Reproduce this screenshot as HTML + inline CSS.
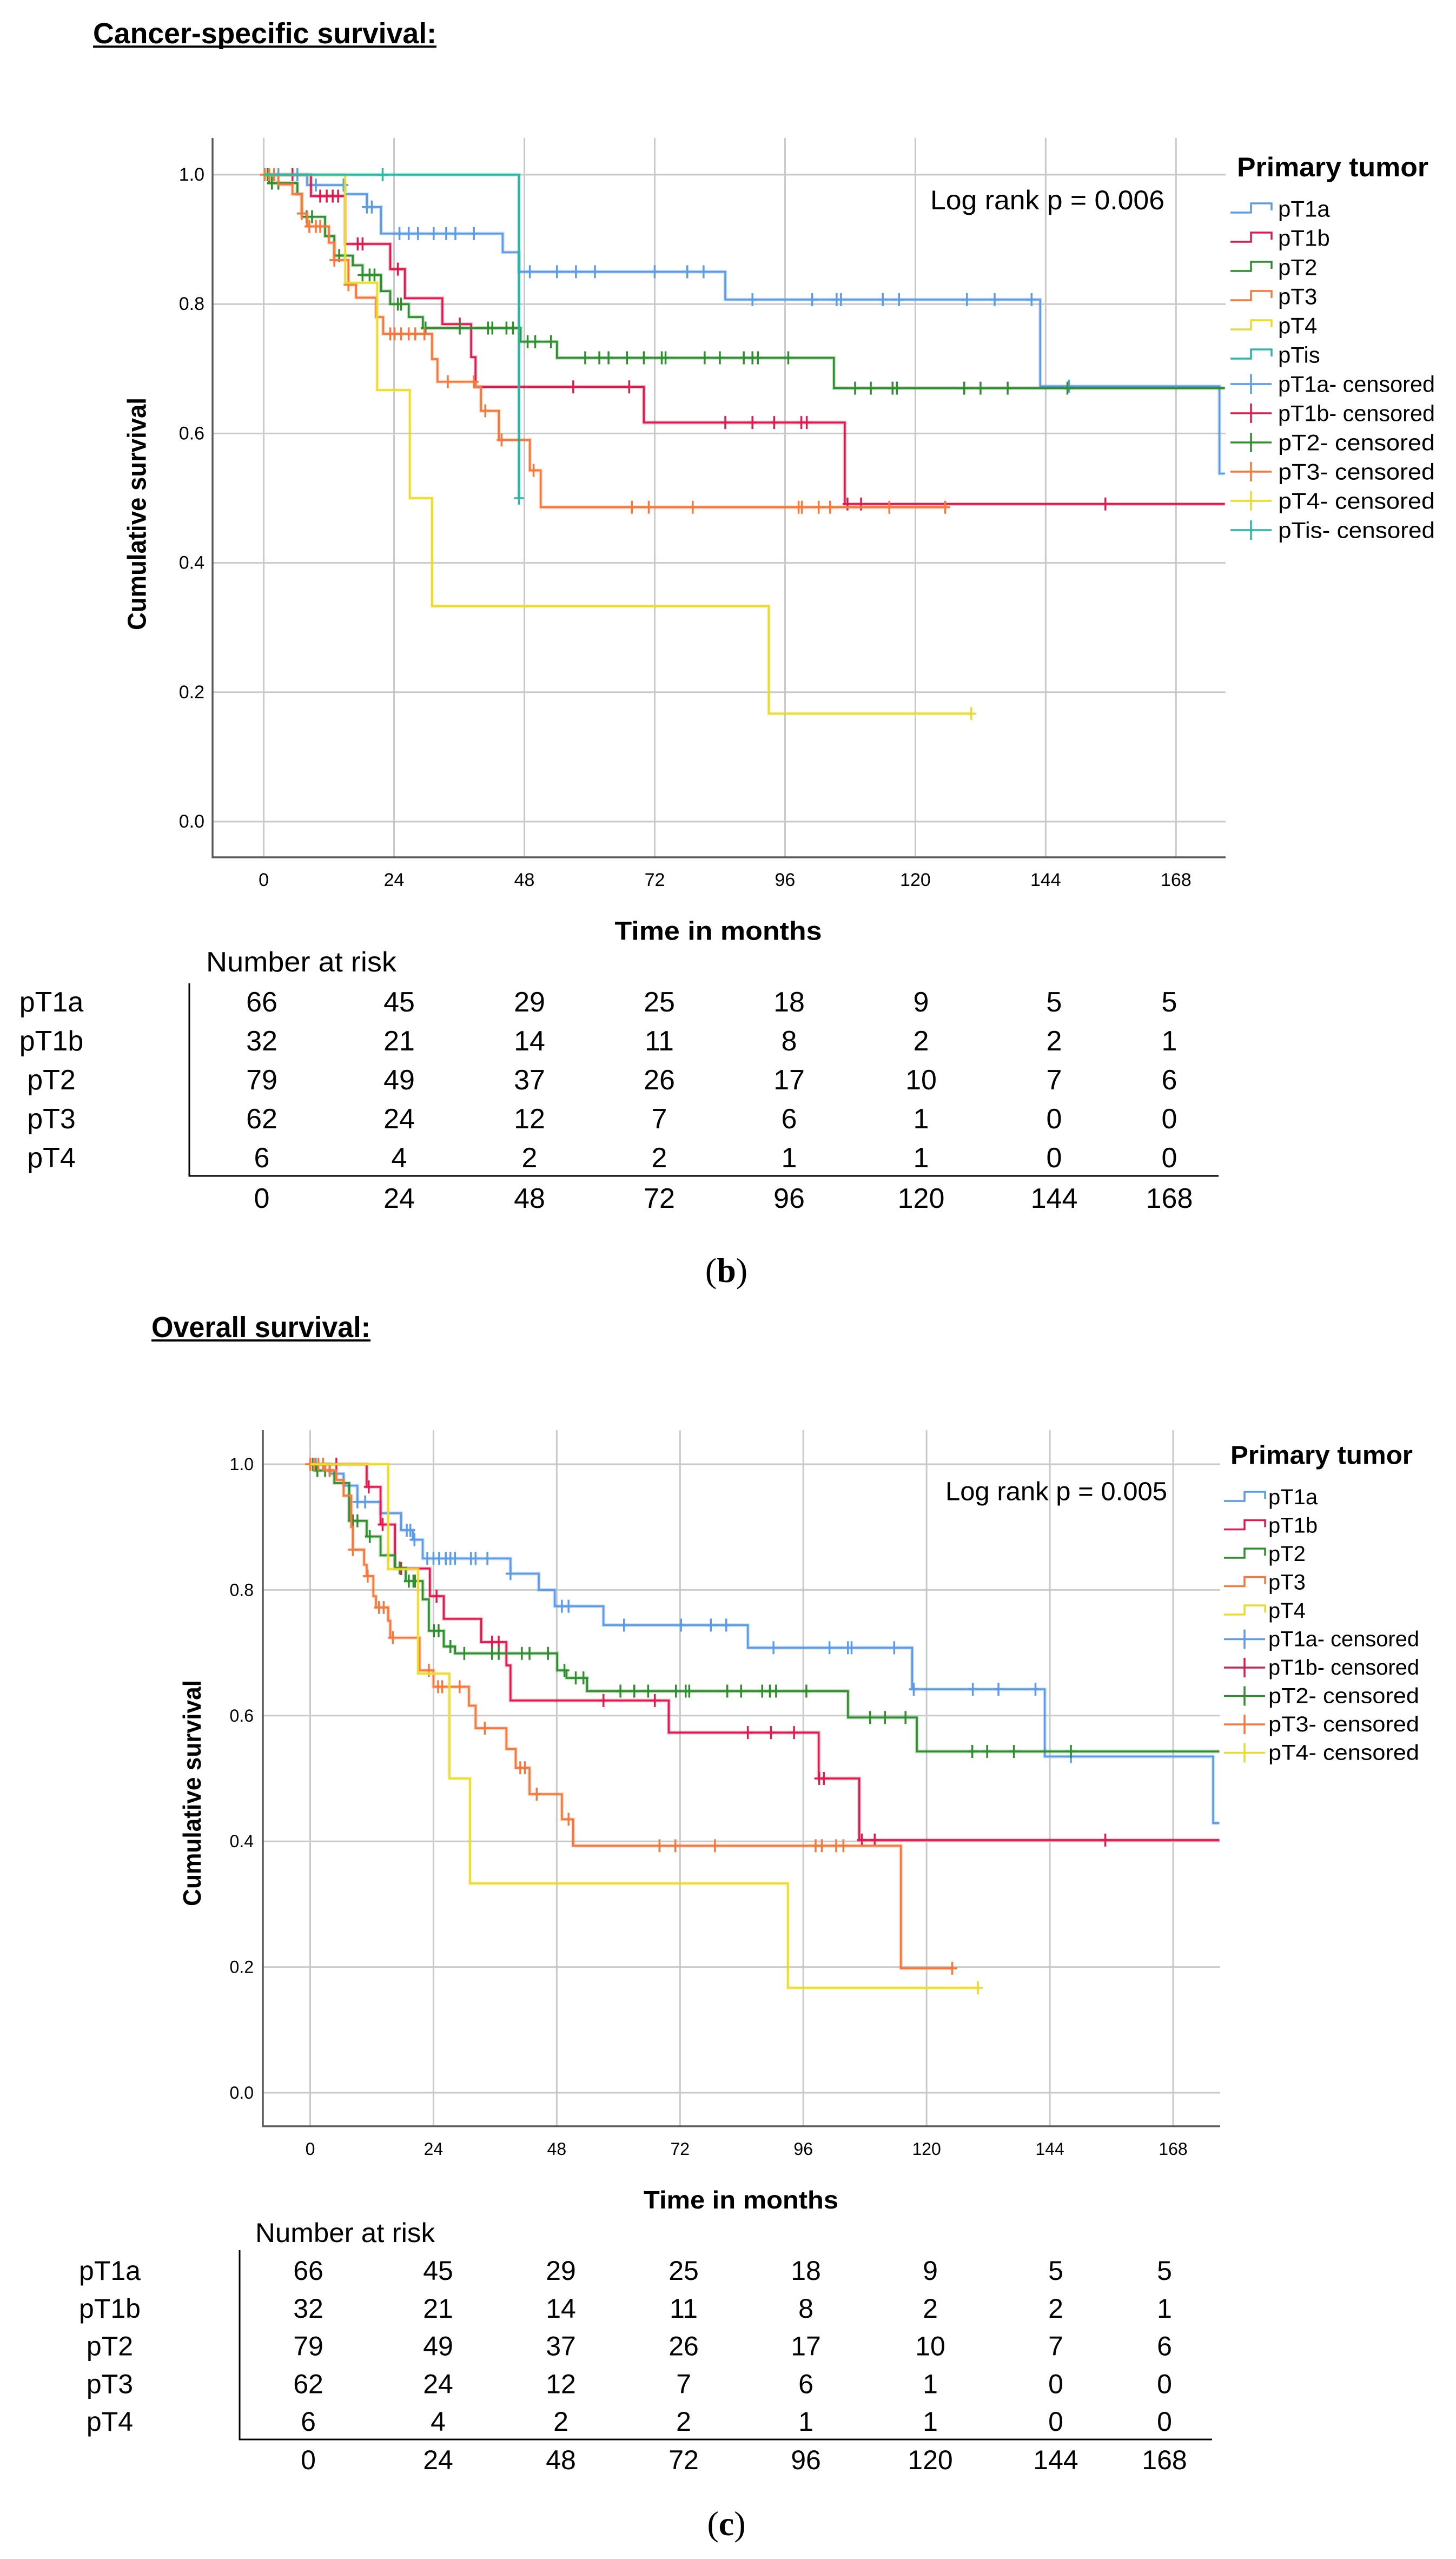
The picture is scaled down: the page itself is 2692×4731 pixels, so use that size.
<!DOCTYPE html>
<html>
<head>
<meta charset="utf-8">
<style>
html,body{margin:0;padding:0;background:#fff;}
svg{display:block;}
text{font-family:"Liberation Sans",sans-serif;fill:#000;}
</style>
</head>
<body>
<svg id="page" width="2692" height="4731" viewBox="0 0 2692 4731" xmlns="http://www.w3.org/2000/svg">
  <rect x="0" y="0" width="2692" height="4731" fill="#fff"/>
  <g id="chartB"></g>
  <g id="chartC"></g>
</svg>
<script>
// ---------- Data: chart (b) cancer-specific survival ----------
const xTicks = [0, 24, 48, 72, 96, 120, 144, 168];
const yTicks = [0.0, 0.2, 0.4, 0.6, 0.8, 1.0];
const yTickLabels = ["0.0", "0.2", "0.4", "0.6", "0.8", "1.0"];
const riskGroups = ["pT1a", "pT1b", "pT2", "pT3", "pT4"];
const riskTimes = [0, 24, 48, 72, 96, 120, 144, 168];
const riskPT1a = [66, 45, 29, 25, 18, 9, 5, 5];
const riskPT1b = [32, 21, 14, 11, 8, 2, 2, 1];
const riskPT2 = [79, 49, 37, 26, 17, 10, 7, 6];
const riskPT3 = [62, 24, 12, 7, 6, 1, 0, 0];
const riskPT4 = [6, 4, 2, 2, 1, 1, 0, 0];

const bT1aTimes = [8, 15, 19, 21.6, 44, 47, 85, 143, 176];
const bT1aSurv = [0.984, 0.97, 0.95, 0.909, 0.88, 0.85, 0.807, 0.673, 0.538];
const bT1aCens = [2.7, 6.2, 9.6, 14.7, 19, 19.9, 25, 26.7, 28.4, 31.3, 33.6, 35.3, 38.7, 49, 54, 57.5, 61, 72, 78, 81, 90, 101, 105.5, 106.3, 114, 117, 129.5, 134.6, 141.4, 148.3];
const bT1bTimes = [8.7, 15, 23.3, 26, 32.9, 38.2, 39, 70, 107];
const bT1bSurv = [0.967, 0.893, 0.854, 0.809, 0.769, 0.718, 0.672, 0.617, 0.491];
const bT1bCens = [5.3, 10.4, 11.6, 12.7, 13.7, 17.3, 18.2, 24.7, 36.1, 57, 67.3, 85, 90, 94, 99, 100, 107.5, 110, 155];
const bT2Times = [1, 6.2, 7, 11.3, 13, 16.4, 18.2, 21.6, 23.3, 26.7, 29.3, 47.3, 54, 105];
const bT2Surv = [0.987, 0.97, 0.935, 0.905, 0.875, 0.86, 0.845, 0.82, 0.80, 0.78, 0.763, 0.742, 0.717, 0.67];
const bT2Cens = [0.7, 1.5, 2.7, 7.9, 8.9, 13.9, 15, 18.2, 19.5, 20.4, 24.7, 25.3, 29.8, 36.1, 41.3, 42.1, 44.7, 45.9, 48.6, 50, 52.9, 59.2, 61.8, 63.5, 66.9, 70, 73.3, 74, 81.2, 84, 88.4, 90, 91, 96.6, 108.9, 111.8, 115.8, 116.6, 129, 132, 137, 148];
const bT3Times = [2.7, 5.3, 7, 8, 12, 13, 15.6, 17, 20.7, 22, 31, 32, 39, 40, 43.3, 49, 51];
const bT3Surv = [0.985, 0.97, 0.94, 0.92, 0.895, 0.868, 0.83, 0.81, 0.78, 0.754, 0.715, 0.68, 0.672, 0.635, 0.59, 0.543, 0.486];
const bT3Cens = [0.2, 1, 1.9, 7, 8.4, 9.6, 10.4, 13, 15.6, 23.3, 24.1, 25.3, 26.7, 27.9, 29.6, 33.9, 38.7, 40.8, 43.8, 49.7, 67.8, 70.9, 79, 98.5, 99.1, 102.2, 104.3, 115.2, 125.5];
const bT4Times = [15, 20.9, 26.9, 31, 93];
const bT4Surv = [0.833, 0.667, 0.5, 0.333, 0.167];
const bT4Cens = [130.3];
const bTisTimes = [47];
const bTisSurv = [0.5];
const bTisCens = [21.9, 47];
const bEnds = [177, 177, 177, 125.5, 130.3, 47];

// ---------- Data: chart (c) overall survival ----------
const cT1aTimes = [3.8, 6.5, 9.2, 13.7, 17.7, 20, 21.9, 39, 44.5, 47.6, 57.1, 85.2, 117.2, 143, 175.8];
const cT1aSurv = [0.985, 0.966, 0.94, 0.922, 0.895, 0.88, 0.85, 0.826, 0.80, 0.774, 0.744, 0.708, 0.642, 0.535, 0.429];
const cT1aCens = [1.1, 9.2, 10.7, 18.8, 19.5, 20.3, 22.8, 24, 25.1, 26.4, 27.3, 28.2, 31.3, 32.2, 34.5, 39, 49, 50.3, 61.1, 72.2, 78, 81, 90.2, 101.1, 104.7, 105.4, 113.7, 117.5, 129, 134, 141.2, 148.1];
const cT1bTimes = [11, 13.7, 16.5, 23.3, 26, 33.3, 38.2, 39, 69.8, 99, 106.9];
const cT1bSurv = [0.964, 0.904, 0.834, 0.79, 0.754, 0.717, 0.68, 0.624, 0.573, 0.5, 0.402];
const cT1bCens = [5.1, 11.4, 14.1, 17.7, 24.6, 35.4, 36.7, 57.1, 67.1, 85.2, 89.7, 94.2, 99.1, 100, 107.4, 109.9, 154.8];
const cT2Times = [1.1, 4.7, 7.6, 11, 13.7, 16.5, 18.6, 21.9, 23.1, 26, 28.2, 48.1, 49.9, 53.9, 104.7, 118.1];
const cT2Surv = [0.99, 0.97, 0.91, 0.885, 0.855, 0.835, 0.814, 0.785, 0.735, 0.71, 0.699, 0.672, 0.66, 0.639, 0.597, 0.543];
const cT2Cens = [0.5, 1.4, 2.9, 3.8, 8.3, 9.2, 11.6, 15.2, 17.4, 19.2, 20.1, 20.4, 24.1, 25, 27.3, 30, 35.4, 36.7, 41.2, 42.7, 46.3, 49.5, 51.7, 53.2, 60.4, 63.1, 65.8, 71.2, 73.1, 73.8, 81.2, 83.9, 88, 89.5, 90.7, 96.6, 109, 111.9, 115.9, 128.9, 131.8, 137, 148.1];
const cT3Times = [2.9, 5.1, 6.5, 8, 8.3, 10.5, 11, 12.3, 12.8, 15.2, 15.6, 21.3, 24, 30.9, 32.2, 38.2, 40, 42.7, 49, 51.2, 115];
const cT3Surv = [0.99, 0.975, 0.95, 0.90, 0.864, 0.84, 0.822, 0.79, 0.772, 0.751, 0.724, 0.672, 0.646, 0.616, 0.58, 0.547, 0.517, 0.475, 0.435, 0.393, 0.198];
const cT3Cens = [0, 0.7, 1.6, 2.5, 3.8, 8.3, 11.2, 13.4, 14.3, 16.1, 23.1, 24.9, 25.7, 29.1, 34, 40.9, 41.8, 44.1, 50.3, 68, 71.1, 78.8, 98.4, 99.6, 102.4, 103.8, 125];
const cT4Times = [15.2, 21, 27.1, 31.1, 93];
const cT4Surv = [0.833, 0.667, 0.5, 0.333, 0.167];
const cT4Cens = [130];
const cEnds = [177, 177, 177, 125, 130];

const COLORS = {pT1a:"#5b9be8", pT1b:"#e01a4f", pT2:"#2f8f2f", pT3:"#f7783a", pT4:"#ecdc2a", pTis:"#2bb7a6"};
const NS = "http://www.w3.org/2000/svg";

function mk(tag, attrs, parent) {
  const e = document.createElementNS(NS, tag);
  for (const k in attrs) e.setAttribute(k, attrs[k]);
  parent.appendChild(e);
  return e;
}
function txt(parent, x, y, s, size, opts) {
  opts = opts || {};
  const t = mk("text", {x: x, y: y, "font-size": size, "text-anchor": opts.anchor || "start", "dominant-baseline": "central"}, parent);
  if (opts.bold) t.setAttribute("font-weight", "bold");
  if (opts.len) { t.setAttribute("textLength", opts.len); t.setAttribute("lengthAdjust", "spacingAndGlyphs"); }
  if (opts.family) t.setAttribute("style", "font-family:" + opts.family);
  if (opts.transform) t.setAttribute("transform", opts.transform);
  t.textContent = s;
  return t;
}
function survAt(times, surv, t) {
  let s = 1;
  for (let i = 0; i < times.length; i++) { if (times[i] <= t + 1e-9) s = surv[i]; }
  return s;
}

function drawChart(g, cfg, series) {
  const xs = m => cfg.x0 + m * cfg.pxm;
  const ys = v => cfg.y0 - v * (cfg.y0 - cfg.y1);
  // title
  const title = txt(g, cfg.titleX, cfg.titleY, cfg.title, cfg.titleSize, {bold: true, len: cfg.titleLen});
  
  
  const ul = mk("line", {x1: cfg.titleX, x2: cfg.titleX + cfg.titleLen, y1: cfg.titleY + cfg.titleSize * 0.45, y2: cfg.titleY + cfg.titleSize * 0.45, stroke: "#000", "stroke-width": 4}, g);
  
  
  // gridlines
  const grid = mk("g", {}, g);
  
  
  yTicks.forEach(v => { mk("line", {x1: cfg.left, x2: cfg.right, y1: ys(v), y2: ys(v), stroke: "#c9c9c9", "stroke-width": 3}, grid); });
  xTicks.forEach(v => { mk("line", {x1: xs(v), x2: xs(v), y1: cfg.top, y2: cfg.bottom, stroke: "#c9c9c9", "stroke-width": 3}, grid); });
  // axes
  const ax = mk("path", {d: `M${cfg.left},${cfg.top} V${cfg.bottom} H${cfg.right}`, fill: "none", stroke: "#5a5a5a", "stroke-width": 3.5}, g);
  
  
  // tick labels
  const xt = mk("g", {}, g);
  
  
  xTicks.forEach(v => { txt(xt, xs(v), cfg.xTickY, String(v), cfg.tickSize, {anchor: "middle"}); });
  const yt = mk("g", {}, g);
  
  
  yTicks.forEach((v, i) => { txt(yt, cfg.yTickX, ys(v), yTickLabels[i], cfg.tickSize, {anchor: "end"}); });
  // axis titles
  const yTitle = txt(g, 0, 0, "Cumulative survival", cfg.axisSize, {bold: true, anchor: "middle", len: cfg.yTitleLen, transform: `translate(${cfg.yTitleX},${cfg.yTitleY}) rotate(-90)`});
  
  
  const xTitle = txt(g, cfg.xTitleX, cfg.xTitleY, "Time in months", cfg.axisSize, {bold: true, anchor: "middle", len: cfg.xTitleLen});
  
  
  const lr = txt(g, cfg.lrX, cfg.lrY, cfg.logRank, cfg.lrSize, {len: cfg.lrLen});
  
  
  // series
  series.forEach(s => {
    const sg = mk("g", {}, g);
    
    
    let d = `M${xs(0)},${ys(1)}`;
    let prev = 1;
    s.times.forEach((t, i) => { d += ` H${xs(t)} V${ys(s.surv[i])}`; prev = s.surv[i]; });
    d += ` H${xs(s.end)}`;
    mk("path", {d: d, fill: "none", stroke: s.color, "stroke-width": 7, "stroke-opacity": 0.25}, sg);
    mk("path", {d: d, fill: "none", stroke: s.color, "stroke-width": 3.5}, sg);
    s.cens.forEach(t => {
      const cx = xs(t), cy = ys(survAt(s.times, s.surv, t));
      const c = mk("path", {d: `M${cx},${cy - 12} V${cy + 12} M${cx - 9},${cy} H${cx + 9}`, stroke: s.color, "stroke-width": 3.5, fill: "none"}, sg);
      
      
    });
  });
  // legend
  const lg = mk("g", {}, g);
  
  
  const lh = txt(lg, cfg.legX, cfg.legHeadY, "Primary tumor", cfg.legHeadSize, {bold: true, len: cfg.legHeadLen});
  
  
  let row = 0;
  series.forEach(s => {
    const y = cfg.legY0 + row * cfg.legStep; row++;
    const e = mk("g", {}, lg);
    
    
    mk("path", {d: `M${cfg.symX},${y + 7} H${cfg.symX + 38} V${y - 10} H${cfg.symX + 76} V${y + 3}`, fill: "none", stroke: s.color, "stroke-width": 3.5}, e);
    txt(e, cfg.legTextX, y, s.name, cfg.legSize);
  });
  series.forEach(s => {
    const y = cfg.legY0 + row * cfg.legStep; row++;
    const e = mk("g", {}, lg);
    
    
    mk("path", {d: `M${cfg.symX},${y} H${cfg.symX + 76} M${cfg.symX + 38},${y - 18} V${y + 18}`, fill: "none", stroke: s.color, "stroke-width": 3.5}, e);
    txt(e, cfg.legTextX, y, s.name + "- censored", cfg.legSize, {len: cfg.legCensLen});
  });
  // risk table
  const rt = mk("g", {}, g);
  
  
  const nr = txt(rt, cfg.nrX, cfg.nrY, "Number at risk", cfg.rtSize, {len: cfg.nrLen});
  
  
  const rows = [riskPT1a, riskPT1b, riskPT2, riskPT3, riskPT4];
  rows.forEach((vals, r) => {
    const y = cfg.rtY0 + r * cfg.rtStep;
    const lab = txt(rt, cfg.rtLabX, y, riskGroups[r], cfg.rtSize, {anchor: "middle"});
    
    
    vals.forEach((v, i) => { txt(rt, cfg.rtCols[i], y, String(v), cfg.rtSize, {anchor: "middle"}); });
  });
  mk("path", {d: `M${cfg.rtLineX},${cfg.rtLineTop} V${cfg.rtAxisY} H${cfg.rtLineRight}`, fill: "none", stroke: "#000", "stroke-width": 3}, rt);
  riskTimes.forEach((v, i) => { txt(rt, cfg.rtCols[i], cfg.rtTimeY, String(v), cfg.rtSize, {anchor: "middle"}); });
  const pl = txt(g, cfg.panelX, cfg.panelY, "", 64, {anchor: "middle", family: "'Liberation Serif',serif"});
  
  
  const t1 = document.createElementNS(NS, "tspan"); t1.textContent = "("; pl.appendChild(t1);
  const t2 = document.createElementNS(NS, "tspan"); t2.setAttribute("font-weight", "bold"); t2.textContent = cfg.panel; pl.appendChild(t2);
  const t3 = document.createElementNS(NS, "tspan"); t3.textContent = ")"; pl.appendChild(t3);
}

const cfgB = {
  title: "Cancer-specific survival:", titleX: 172, titleY: 62, titleSize: 54, titleLen: 635,
  x0: 487.6, pxm: 10.04, y1: 323, y0: 1519, left: 393, top: 255, right: 2266, bottom: 1585,
  xTickY: 1627, yTickX: 378, tickSize: 34,
  yTitleX: 254, yTitleY: 950, yTitleLen: 430, xTitleX: 1328, xTitleY: 1722, xTitleLen: 383, axisSize: 48,
  logRank: "Log rank p = 0.006", lrX: 1720, lrY: 370, lrSize: 50, lrLen: 433,
  legX: 2287, legHeadY: 309, legHeadSize: 50, legHeadLen: 354, legY0: 386, legStep: 54.0,
  symX: 2275, legTextX: 2363, legSize: 42, legCensLen: 290,
  nrX: 381, nrY: 1779, nrLen: 352, rtSize: 52, rtLabX: 95, rtY0: 1853, rtStep: 72,
  rtCols: [484, 738, 979, 1219, 1459, 1703, 1949, 2162],
  rtLineX: 350, rtLineTop: 1818, rtAxisY: 2174, rtLineRight: 2253, rtTimeY: 2216,
  panel: "b", panelX: 1343, panelY: 2348
};
const cfgC = {
  title: "Overall survival:", titleX: 280, titleY: 2454, titleSize: 54, titleLen: 405,
  x0: 573.5, pxm: 9.497, y1: 2707, y0: 3869, left: 486, top: 2644, right: 2256, bottom: 3931,
  xTickY: 3973, yTickX: 469, tickSize: 32,
  yTitleX: 355, yTitleY: 3315, yTitleLen: 418, xTitleX: 1370, xTitleY: 4067, xTitleLen: 360, axisSize: 46,
  logRank: "Log rank p = 0.005", lrX: 1748, lrY: 2758, lrSize: 48, lrLen: 410,
  legX: 2275, legHeadY: 2691, legHeadSize: 48, legHeadLen: 337, legY0: 2768, legStep: 52.5,
  symX: 2263, legTextX: 2345, legSize: 40, legCensLen: 279,
  nrX: 472, nrY: 4128, nrLen: 332, rtSize: 50, rtLabX: 203, rtY0: 4198, rtStep: 69.8,
  rtCols: [570, 810, 1037, 1264, 1490, 1720, 1952, 2153],
  rtLineX: 443, rtLineTop: 4160, rtAxisY: 4510, rtLineRight: 2241, rtTimeY: 4548,
  panel: "c", panelX: 1343, panelY: 4665
};

const seriesB = [
  {name: "pT1a", color: COLORS.pT1a, times: bT1aTimes, surv: bT1aSurv, cens: bT1aCens, end: bEnds[0]},
  {name: "pT1b", color: COLORS.pT1b, times: bT1bTimes, surv: bT1bSurv, cens: bT1bCens, end: bEnds[1]},
  {name: "pT2", color: COLORS.pT2, times: bT2Times, surv: bT2Surv, cens: bT2Cens, end: bEnds[2]},
  {name: "pT3", color: COLORS.pT3, times: bT3Times, surv: bT3Surv, cens: bT3Cens, end: bEnds[3]},
  {name: "pT4", color: COLORS.pT4, times: bT4Times, surv: bT4Surv, cens: bT4Cens, end: bEnds[4]},
  {name: "pTis", color: COLORS.pTis, times: bTisTimes, surv: bTisSurv, cens: bTisCens, end: bEnds[5]}
];
const seriesC = [
  {name: "pT1a", color: COLORS.pT1a, times: cT1aTimes, surv: cT1aSurv, cens: cT1aCens, end: cEnds[0]},
  {name: "pT1b", color: COLORS.pT1b, times: cT1bTimes, surv: cT1bSurv, cens: cT1bCens, end: cEnds[1]},
  {name: "pT2", color: COLORS.pT2, times: cT2Times, surv: cT2Surv, cens: cT2Cens, end: cEnds[2]},
  {name: "pT3", color: COLORS.pT3, times: cT3Times, surv: cT3Surv, cens: cT3Cens, end: cEnds[3]},
  {name: "pT4", color: COLORS.pT4, times: cT4Times, surv: cT4Surv, cens: cT4Cens, end: cEnds[4]}
];

drawChart(document.getElementById("chartB"), cfgB, seriesB);
drawChart(document.getElementById("chartC"), cfgC, seriesC);
</script>
</body>
</html>
